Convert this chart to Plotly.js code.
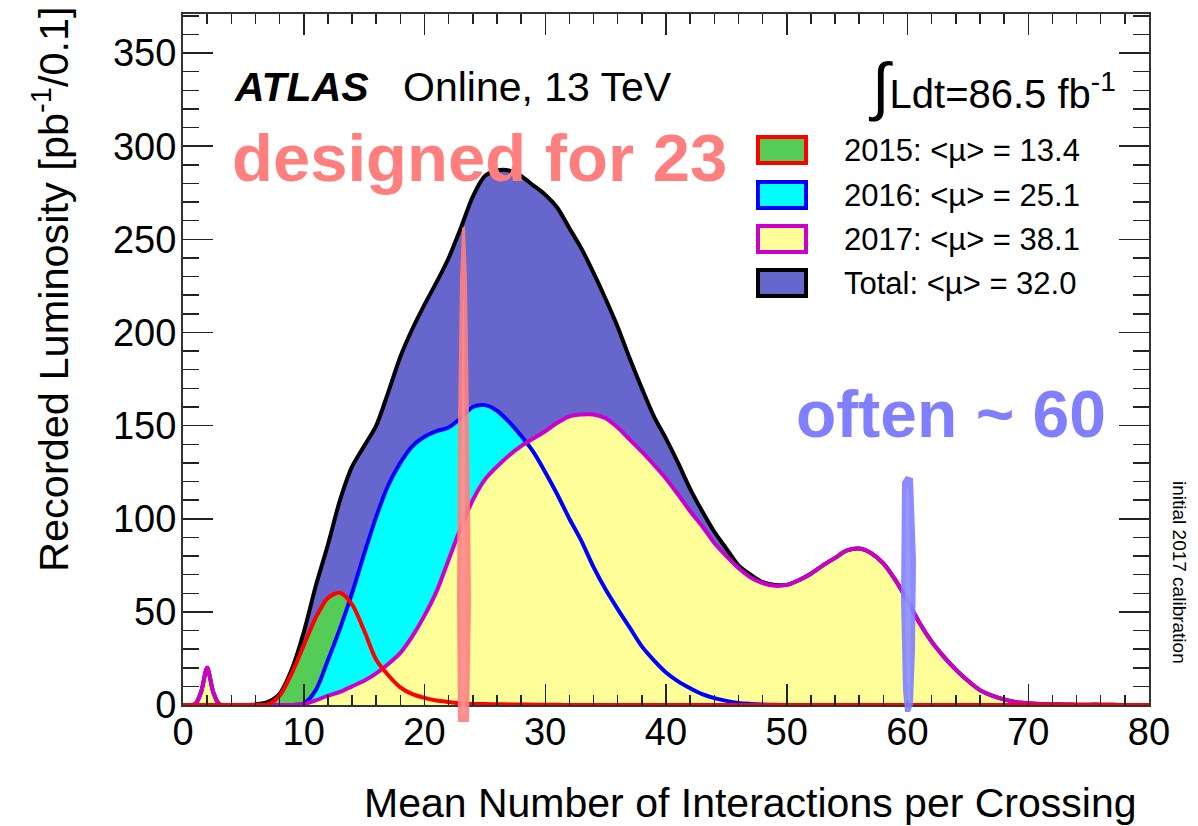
<!DOCTYPE html>
<html>
<head>
<meta charset="utf-8">
<script src="https://cdn.plot.ly/plotly-3.0.1.min.js"></script>
<style>
  html, body { margin: 0; padding: 0; background: #ffffff; }
  #chart { width: 1198px; height: 826px; }
</style>
</head>
<body>
<div id="chart"></div>
<script>
// Mean number of interactions per bunch crossing (bin centres)
const mu = [0, 1, 1.5, 2, 2.5, 3,
  4, 5, 6, 7, 8, 9, 10, 11, 12, 13, 14, 15, 16, 17, 18, 19, 20,
  21, 22, 23, 24, 25, 26, 27, 28, 29, 30, 31, 32, 33, 34, 35, 36, 37, 38, 39, 40,
  41, 42, 43, 44, 45, 46, 47, 48, 49, 50, 51, 52, 53, 54, 55, 56, 57, 58, 59, 60,
  61, 62, 63, 64, 65, 66, 67, 68, 69, 70, 71, 72, 73, 74, 75, 76, 77, 78, 79, 80];

// Recorded luminosity per 0.1 in mu [pb^-1]
const lumiTotal = [0, 0.5, 7, 20, 7, 0.5,
  0, 0, 0.3, 1.5, 6, 19, 39, 64, 86, 110, 128, 139, 150, 168, 187, 202, 215,
  227, 240, 256, 273, 284, 287, 287, 284, 279, 274, 267, 256, 245, 232, 218, 203, 186, 170, 155, 143,
  130, 116, 104, 93, 84, 75, 70, 66, 64.5, 64.5, 67, 70.5, 75, 79, 83, 84, 81.5, 76, 67, 56,
  44, 34, 26, 19, 13, 8, 5, 3, 1.5, 1, 0.6, 0.4, 0.3, 0.2, 0.2, 0.2, 0.1, 0, 0, 0];

const lumi2015 = [0, 0, 0, 0, 0, 0,
  0, 0, 0, 0.3, 5, 17, 32, 47, 57.5, 60.3, 54, 40, 24.3, 16, 9.5, 5.8, 3.8,
  2.4, 1.6, 0.9, 0.6, 0.5, 0.4, 0.3, 0.3, 0.2, 0.2, 0.1, 0, 0, 0, 0, 0, 0, 0, 0, 0,
  0, 0, 0, 0, 0, 0, 0, 0, 0, 0, 0, 0, 0, 0, 0, 0, 0, 0, 0, 0,
  0, 0, 0, 0, 0, 0, 0, 0, 0, 0, 0, 0, 0, 0, 0, 0, 0, 0, 0, 0];

const lumi2016 = [0, 0, 0, 0, 0, 0,
  0, 0, 0, 0, 0, 0, 0.8, 8, 24, 41, 60, 81, 101, 118, 130, 139, 144,
  147, 149, 154, 160, 161, 158, 152, 144.5, 136, 125, 113, 100, 88, 74, 62, 51.5, 41.5, 31.5, 24, 17.5,
  12.7, 9, 5.8, 3.7, 2.2, 1.1, 0.6, 0.3, 0.1, 0, 0, 0, 0, 0, 0, 0, 0, 0, 0, 0,
  0, 0, 0, 0, 0, 0, 0, 0, 0, 0, 0, 0, 0, 0, 0, 0, 0, 0, 0, 0];

const lumi2017 = [0, 0.5, 7, 20, 7, 0.5,
  0, 0, 0, 0, 0, 0, 0.5, 2.5, 5, 7, 10, 13, 17, 22, 28, 37, 48,
  61, 78, 95, 110, 121, 128, 134, 139, 143, 147, 151.5, 155, 156, 156, 154, 149, 142.5, 136, 129, 121.5,
  113, 104, 96, 87, 80, 73.5, 68.5, 65.5, 64, 64.5, 67, 70.5, 75, 79, 83, 84, 81.5, 76, 67, 56,
  44, 34, 26, 19, 13, 8, 5, 3, 1.5, 1, 0.6, 0.4, 0.3, 0.2, 0.2, 0.2, 0.1, 0, 0, 0];

// Legend entries (2015, 2016, 2017, Total)
const legendLabels = [
  '2015: &lt;\u00b5&gt; = 13.4',
  '2016: &lt;\u00b5&gt; = 25.1',
  '2017: &lt;\u00b5&gt; = 38.1',
  'Total: &lt;\u00b5&gt; = 32.0'
];

const series = [
  { name: 'Total', y: lumiTotal, fill: '#6666CC', line: '#000000' },
  { name: '2015',  y: lumi2015,  fill: '#55CC55', line: '#FF0000' },
  { name: '2016',  y: lumi2016,  fill: '#00FFFF', line: '#0000FF' },
  { name: '2017',  y: lumi2017,  fill: '#FFFF99', line: '#CC00CC' }
];

const FONT = 'Liberation Sans, Arial, Helvetica, sans-serif';

// Fills first, outlines on top, as in a stacked-histogram overlay
const traces = [];
series.forEach(s => traces.push({
  x: mu, y: s.y, type: 'scatter', mode: 'lines',
  line: { width: 0, shape: 'spline', smoothing: 0.8, color: s.fill },
  fill: 'tozeroy', fillcolor: s.fill, hoverinfo: 'skip', showlegend: false
}));
[0, 2, 3, 1].forEach(i => traces.push({
  x: mu, y: series[i].y, type: 'scatter', mode: 'lines',
  line: { width: 4, shape: 'spline', smoothing: 0.8, color: series[i].line },
  hoverinfo: 'skip', showlegend: false
}));

// Pixel -> paper helpers for the decorations (plot area 183..1149 x 14..705)
const L = 183, T = 14, W = 966, H = 691;
const fx = px => (px - L) / W;
const fy = py => (T + H - py) / H;

const annotations = [
  { text: '<b><i>ATLAS</i></b>', x: fx(232), y: fy(87), xanchor: 'left', yanchor: 'middle',
    font: { family: FONT, size: 41, color: '#000' } },
  { text: 'Online, 13 TeV', x: fx(401), y: fy(87), xanchor: 'left', yanchor: 'middle',
    font: { family: FONT, size: 41, color: '#000' } },
  { text: '<span style="font-size:64px">\u222b</span>Ldt=86.5 fb<sup>-1</sup>', x: fx(866), y: fy(86),
    xanchor: 'left', yanchor: 'middle',
    font: { family: FONT, size: 40, color: '#000' } },
  { text: '<b>designed for 23</b>', x: fx(230), y: fy(157), xanchor: 'left', yanchor: 'middle',
    font: { family: FONT, size: 67, color: '#FF7F7F' } },
  { text: '<b>often ~ 60</b>', x: fx(794), y: fy(414), xanchor: 'left', yanchor: 'middle',
    font: { family: FONT, size: 66, color: '#7F7FFF' } },
  { text: 'initial 2017 calibration', x: fx(1180), y: fy(572), xanchor: 'center', yanchor: 'middle',
    textangle: 90, font: { family: FONT, size: 19, color: '#000' } },
  { text: 'Mean Number of Interactions per Crossing', x: fx(1139), y: fy(803),
    xanchor: 'right', yanchor: 'middle', font: { family: FONT, size: 41, color: '#000' } },
  { text: 'Recorded Luminosity [pb<sup>-1</sup>/0.1]', x: fx(51), y: fy(4),
    xanchor: 'center', yanchor: 'top', textangle: -90, font: { family: FONT, size: 41.5, color: '#000' } }
].map(a => Object.assign({ xref: 'paper', yref: 'paper', showarrow: false }, a));

const shapes = [];
const legendRows = [150, 195, 239, 283];
// legend order: 2015, 2016, 2017, Total
[1, 2, 3, 0].forEach((si, k) => {
  const yc = legendRows[k];
  shapes.push({ type: 'rect', xref: 'paper', yref: 'paper',
    x0: fx(758), x1: fx(806), y0: fy(yc + 13), y1: fy(yc - 13),
    fillcolor: series[si].fill, line: { color: series[si].line, width: 4 } });
  annotations.push({ xref: 'paper', yref: 'paper', showarrow: false,
    text: legendLabels[k], x: fx(842), y: fy(yc), xanchor: 'left', yanchor: 'middle',
    font: { family: FONT, size: 31, color: '#000' } });
});

// Hand-drawn highlight strokes at mu ~ 23 and mu ~ 60
const poly = pts => 'M ' + pts.map(p => fx(p[0]) + ',' + fy(p[1])).join(' L ') + ' Z';
const streak = (pts, color, op) => ({ type: 'path', xref: 'paper', yref: 'paper', layer: 'above',
  path: poly(pts), fillcolor: color, opacity: op, line: { width: 0 } });
shapes.push(streak([[458, 722], [457, 600], [458, 420], [460, 280], [462, 228], [465, 226], [467, 280], [469, 420], [471, 600], [469, 722]], '#FF7F7F', 0.9));
shapes.push(streak([[461, 715], [461, 500], [463, 300], [464, 300], [465, 500], [466, 715]], '#FF9A9A', 0.6));
shapes.push(streak([[902, 482], [906, 476], [913, 478], [916, 560], [915, 650], [913, 705], [910, 712], [905, 712], [903, 690], [901, 600]], '#7F7FFF', 0.9));
shapes.push(streak([[906, 490], [909, 488], [911, 600], [910, 700], [907, 700], [905, 600]], '#9C9CFF', 0.6));

const axisCommon = {
  ticks: 'inside', tickcolor: '#222', tickwidth: 1.5, mirror: 'allticks',
  showline: true, linecolor: '#333', linewidth: 2, showgrid: false, zeroline: false,
  tickfont: { family: FONT, size: 38, color: '#000' }, fixedrange: true
};

const layout = {
  width: 1198, height: 826,
  margin: { l: L, r: 1198 - L - W, t: T, b: 826 - T - H, pad: 0 },
  paper_bgcolor: '#ffffff', plot_bgcolor: '#ffffff',
  showlegend: false,
  xaxis: Object.assign({}, axisCommon, {
    range: [0, 80], tick0: 0, dtick: 10, ticklen: 21, ticklabelstandoff: -8,
    minor: { dtick: 2, ticks: 'inside', ticklen: 10, tickwidth: 1.5, tickcolor: '#222' }
  }),
  yaxis: Object.assign({}, axisCommon, {
    range: [0, 371], tick0: 0, dtick: 50, ticklen: 30, ticklabelstandoff: -3,
    minor: { dtick: 10, ticks: 'inside', ticklen: 16, tickwidth: 1.5, tickcolor: '#222' }
  }),
  annotations: annotations,
  shapes: shapes
};

Plotly.newPlot('chart', traces, layout, { displayModeBar: false, staticPlot: true });
</script>
</body>
</html>
